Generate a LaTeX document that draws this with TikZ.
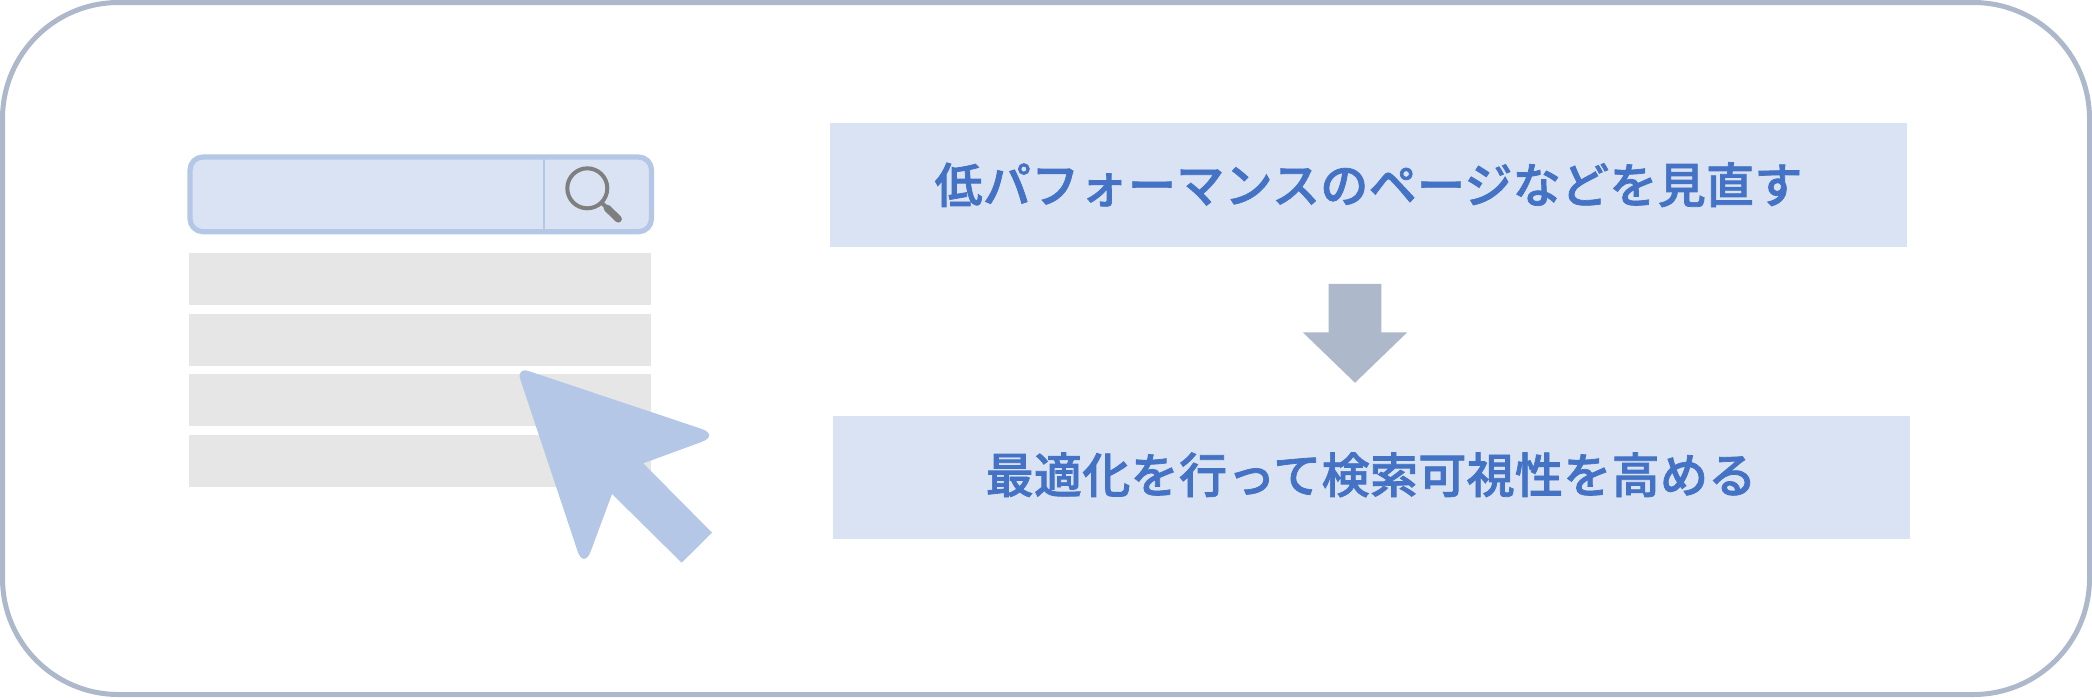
\documentclass[tikz,border=0pt]{standalone}
\usepackage{fontspec}
\usepackage{xcolor}
\usepackage{tikz}
\usetikzlibrary{positioning, shapes.arrows}
\newfontfamily\jpfont[LetterSpace=0.7,FakeBold=1.5]{Noto Sans CJK JP Medium}
\definecolor{paleblue}{HTML}{DAE3F3}
\definecolor{midblue}{HTML}{B4C7E7}
\definecolor{textblue}{HTML}{4472C4}
\definecolor{slate}{HTML}{ADB9CA}
\definecolor{rowgrey}{HTML}{E6E6E6}
\definecolor{lensgrey}{HTML}{7F7F7F}

\begin{document}
\begin{tikzpicture}[
  x=0.5pt, y=-0.5pt,
  frame/.style={draw=slate, line width=2.5pt, rounded corners=58pt},
  searchbar/.style={draw=midblue, fill=paleblue, line width=2.6pt, rounded corners=6.5pt, outer sep=0pt, minimum width=230.75pt, minimum height=37.35pt, inner sep=0pt},
  resultrow/.style={fill=rowgrey, minimum width=231pt, minimum height=26pt, inner sep=0pt, outer sep=0pt},
  msgbox/.style={fill=paleblue, text=textblue, minimum width=538.5pt, minimum height=61.75pt, inner sep=0pt, text height=21pt, font=\jpfont\fontsize{24pt}{28pt}\selectfont},
  downarr/.style={single arrow, fill=slate, shape border rotate=270, minimum width=51.75pt, minimum height=49.5pt, single arrow head extend=12.9pt, single arrow tip angle=92, inner sep=13pt, outer sep=0pt}
]
\useasboundingbox (0,0) rectangle (2092,697);
\draw[frame] (2.5,2.5) rectangle (2089.5,694.5);

% search box
\node[searchbar] (bar) at (420.75,194.35) {};
\coordinate (sep) at (544,194);
\draw[midblue, line width=1pt] (sep|-bar.north) -- (sep|-bar.south);
\node[draw=lensgrey, line width=2pt, circle, minimum size=20pt, inner sep=0pt, outer sep=0pt] (lens) at (587.3,188.3) {};
\coordinate (neck) at (607.3,208.3);
\coordinate (handle) at (618.3,219);
\draw[lensgrey, line width=2pt] (lens.south east) -- (neck);
\draw[lensgrey, line width=3.6pt, line cap=round] (neck) -- (handle);

% result rows
\node[resultrow] (row1) at (420,279) {};
\node[resultrow, below=4.33pt of row1] (row2) {};
\node[resultrow, below=4.33pt of row2] (row3) {};
\node[resultrow, below=4.33pt of row3] (row4) {};

% pointer
\coordinate (tipa) at (516.2,366.9);
\coordinate (tipb) at (720.2,435.1);
\coordinate (tipc) at (583.8,569.9);
\fill[midblue] (643.3,463.3) -- (712,532.7) -- (681.7,562.7) -- (612,494)
  [rounded corners=10pt] -- (tipc) [rounded corners=6.5pt] -- (tipa) [rounded corners=10pt] -- (tipb) [sharp corners] -- cycle;

% right side
\node[msgbox, text depth=3pt] (top) at (1368.5,185) {低パフォーマンスのページなどを見直す};
\node[msgbox, text depth=5.5pt] (bottom) at (1371,477.5) {最適化を行って検索可視性を高める};
\node[downarr] (arrow) at (1355,320.5) {};
\end{tikzpicture}
\end{document}
